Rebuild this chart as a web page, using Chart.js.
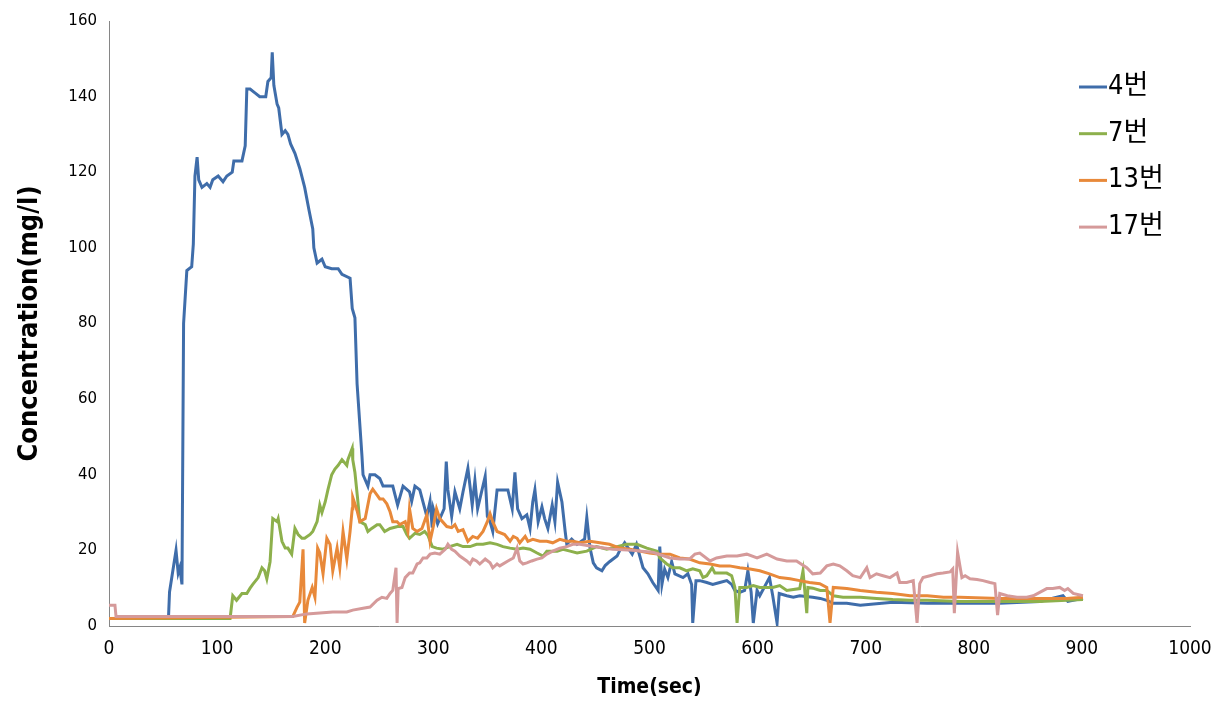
<!DOCTYPE html>
<html>
<head>
<meta charset="utf-8">
<script src="https://cdn.jsdelivr.net/npm/chart.js@4"></script>
<style>
  html, body { margin: 0; padding: 0; background: #fff; }
  #wrap { width: 1232px; height: 710px; }
</style>
</head>
<body>
<div id="wrap"><canvas id="chart" width="1232" height="710"></canvas></div>
<script>
// legend names
const seriesNames = ['4번', '7번', '13번', '17번'];
const seriesColors = ['#3F6DAA', '#8DB04C', '#E8893A', '#D59A9A'];

// [time (sec), concentration (mg/l)]
const s4 = [[0,2],[55,2],[56,9],[62,20],[64,14],[65.5,15.4],[67.5,11],[69,80],[72,94],[76.5,95],[78,101],[79.5,119],[81.5,124],[83,118],[86,116],[90.5,117],[93.5,116],[96,118],[101,119],[105.5,117.5],[109,119],[114,120],[115.5,123],[123,123],[126,127],[127.5,142],[130.5,142],[135,141],[139.5,140],[145,140],[147,144],[150,145],[151,151.7],[152.5,143],[155.5,138],[157,137],[160,130],[163,131],[165.5,130],[168,127.5],[172,125],[176.5,121],[181,116],[185,110],[188.5,105],[189.5,100],[192.5,96],[197,97],[200,95],[206,94.5],[212,94.5],[215.5,93],[223,92],[225,84],[227.5,81.5],[229.5,64],[234,45],[235,40],[239.5,37],[241.5,40],[246,40],[250.5,39],[253.5,37],[262.5,37],[267,32],[269,34],[272,37],[278,35.5],[280,33],[283,37],[287.5,36],[294,29],[297,33],[299,26],[300,31],[304,27],[310,31],[312,43.5],[313.5,36],[317,29],[320,35.5],[324.5,31],[327.5,35.5],[332,41.7],[336,32],[338.5,38.5],[341,31],[348,39.6],[350,29],[352.5,27.6],[355,25],[359,36],[369,36],[373,31],[375.5,40.6],[378,31],[382,28.4],[386.5,29.4],[389.5,25.8],[392,32.8],[394,36],[397,27.6],[400.5,31.5],[403,28.4],[406,25.8],[410,32],[412.5,27.6],[415,38],[419,32.8],[422,25],[423.5,21.6],[428,23],[433,21.6],[440,23],[442,28.7],[445,20.6],[448,16.7],[451,15.4],[456,14.6],[459,16],[463,17],[470,18.5],[472.5,20],[477,22],[484,19],[488,21.6],[494,15.4],[498.5,13.8],[503,11.5],[508,9.4],[509.5,21],[511.5,11],[514,15],[517,12.8],[520.5,17],[523.5,13.8],[531,12.8],[535.5,13.8],[539,11],[540,0.8],[543,12],[546.5,12],[553,11.5],[558.5,11],[565,11.5],[571.5,12],[576,11],[579,9.4],[583.5,8.9],[588,9.4],[591,14.6],[594,9],[596,0.8],[599.5,9.4],[602,8],[611,12.8],[614,8],[618,0.8],[620,8.6],[627,8],[633,7.6],[639,8],[651,7.6],[658,7.3],[664,6.8],[670,6],[682.5,6],[695,5.5],[725,6.3],[757,6],[787,6],[824,6],[861,6.5],[882.5,8],[887,6.5],[901,7.3]];

const s7 = [[0,2],[112,2],[114.5,8],[118,6.8],[123,8.6],[127.5,8.6],[130.5,10],[133,11],[138,12.8],[141.5,15.4],[144,14.6],[146,12.5],[149,17],[151.5,28.4],[155.5,27.6],[156.5,28.4],[160,22.4],[163,20.6],[165.5,20.6],[169,19],[172,25.8],[175,24.2],[178.5,23.2],[181,23.2],[186,24.2],[188.5,25],[192.5,27.6],[195,32],[197,30],[200,32.8],[202.5,36],[206,40],[209,41.5],[212,42.5],[215.5,44],[220,42.5],[221,44],[225,47],[225.5,44],[227.5,40.6],[230,33.6],[232,27.6],[237,26.8],[239.5,25],[243,25.8],[248,26.8],[250.5,26.8],[255,25],[260,25.8],[267,26.3],[272,26.3],[275.5,24.2],[278,23.2],[283,24.5],[287.5,24.2],[292,25],[295,24],[299,21],[303,20.6],[309,20.3],[315,21],[322,21.6],[327.5,21],[334,21],[340,21.6],[346,21.6],[352.5,22],[359,21.6],[364.5,21],[371,20.6],[377.5,20.3],[383,20.6],[389.5,20.3],[396,19.3],[401.5,18.5],[405,19.8],[414.5,19.8],[420,20.3],[426.5,19.8],[433,19.3],[442,19.8],[451,21],[460.5,20.3],[470,21],[479,21.6],[488.5,21.6],[497.5,20.6],[507,19.8],[509.5,18],[516,16.4],[521.5,15.4],[528,15.4],[534.5,14.6],[540,15.1],[546.5,14.6],[549.5,12.8],[553,13.3],[558,15.4],[560.5,14],[565,14],[571.5,14],[576,13.3],[579,10.2],[581,0.8],[583.5,10.2],[590,10.2],[596,10.7],[602,10.2],[614,10.2],[620.5,10.7],[627,9.4],[639,9.9],[642,14.6],[645.5,3.4],[646.5,10.2],[651,10],[658,9.4],[664,9.4],[670,8],[679,7.6],[695,7.6],[710,7.3],[725,7],[741,6.8],[757,6.8],[787,6.5],[824,6.5],[861,6.5],[901,7]];

const s13 = [[0,2],[170,2.5],[174,5],[176.5,6.3],[179.5,20.3],[181,0.8],[184,6.8],[188,10.2],[190.5,7.6],[193,20.6],[195,19.3],[198,13.8],[201.5,23.2],[204.5,21.6],[207,14.6],[211,20.6],[213.5,15.4],[216.5,25],[220,17.7],[223,25],[225,31],[225.5,34],[229.5,30.5],[232,27.6],[237,28.4],[241.5,35],[244,36.2],[248,34.6],[250.5,33.6],[253.5,33.6],[257,32.3],[260,30.2],[262.5,27.6],[266.5,27.6],[269,26.8],[274,27.6],[276.5,25],[278,31],[281,25.8],[285,25],[289.5,25.8],[294,29.4],[297,22.4],[300,26.3],[303,31],[306,28.4],[312.5,26.3],[317,26],[320,26.8],[323,25],[327.5,25.5],[332,22.4],[336.5,23.7],[341,23.2],[346,25],[350,27.6],[352.5,29.7],[355,27.6],[359,25],[366,24.2],[371,22.4],[374,23.7],[377.5,23.2],[380,22],[385,23.7],[387.5,22.4],[392,22.9],[398.5,22.4],[405,22.4],[410.5,22],[417,22.9],[423.5,22.4],[429,22.4],[435.5,22],[445,22.4],[454,22],[463,21.6],[472.5,20.6],[482,20.3],[491,19.8],[500,19.3],[509.5,19],[519,19],[528,18],[537,17.7],[546.5,16.7],[556,16.4],[565,15.9],[574,15.9],[583.5,15.4],[593,15.1],[602,14.6],[611,13.8],[620.5,12.8],[630,12.5],[639,12],[648,11.5],[657.5,11.2],[664,10.2],[667,0.8],[670,10.2],[682.5,9.9],[695,9.4],[710,8.9],[725,8.6],[741,8],[757,8],[772,7.6],[787,7.6],[824,7.3],[855,7.3],[886,7.3],[901,7.6]];

const s17 = [[0,5.5],[5.5,5.5],[6.5,2.5],[170,2.5],[183,3.2],[207,3.7],[220,3.7],[225.5,4.2],[235,4.7],[241.5,5],[248,6.8],[252.5,7.6],[257,7.3],[260,8.6],[262.5,9.4],[265.5,15.4],[266.5,0.8],[267.5,9.9],[271,10.2],[274,12.8],[278,14],[281,14],[285,16.4],[287.5,16.7],[290.5,18],[294,18],[297,19],[301.5,19.3],[306,19],[311,20.3],[313.5,21.6],[317,20.3],[320,19.8],[324.5,18.5],[331,17.2],[334,16.4],[336.5,17.7],[340,17.2],[343,16.4],[348,17.7],[352.5,16.7],[355,15.4],[359,16.4],[361.5,15.9],[369,17.2],[374,18],[377.5,20.6],[380,17.2],[383,16.4],[386.5,16.7],[391,17.2],[396,17.7],[400.5,18],[405,19],[410.5,19.8],[417,20.6],[423.5,21],[429,21.6],[435.5,21.6],[448,21],[466,20.3],[484.5,20],[503,19.5],[519,18],[528,17.7],[537,17.7],[542,19],[546.5,19.3],[556,17.2],[562,18],[571.5,18.5],[581,18.5],[590,19],[599.5,18],[608.5,19],[618,17.7],[627,17.2],[636,17.2],[645.5,15.4],[651,13.8],[658,14],[664,15.9],[670,16.4],[676,15.9],[682.5,14.6],[688,13.3],[695,12.8],[701,15.4],[704,12.8],[710,13.8],[716,13.3],[722.5,12.8],[729,14],[731.5,11.5],[738,11.5],[744,12],[747.5,0.8],[750,11.2],[753,12.8],[759.5,13.3],[766,13.8],[771.5,14],[778,14.3],[780.5,15.1],[782,3.4],[785,19.5],[789,12.8],[792,13.3],[796.5,12.5],[803,12.3],[808.5,12],[815,11.5],[819.5,11.2],[822,2.9],[824,8.6],[831,8],[840,7.6],[849,7.6],[855,8],[861,8.9],[867.5,9.9],[873,9.9],[879.5,10.2],[884,9.4],[887,9.9],[892,8.6],[901,8]];

const seriesData = [s4, s7, s13, s17];

const axisColor = '#868686';
const narrow = "'DejaVu Sans Condensed', 'Liberation Sans Narrow', sans-serif";

// legend drawn inside the plot, top right
const sideLegend = {
  id: 'sideLegend',
  afterDraw(chart) {
    const ctx = chart.ctx;
    ctx.save();
    ctx.font = "27px 'DejaVu Sans Condensed', 'Noto Sans CJK KR', sans-serif";
    ctx.textBaseline = 'middle';
    ctx.textAlign = 'left';
    seriesNames.forEach((name, i) => {
      const y = 87 + i * 46.7;
      ctx.strokeStyle = seriesColors[i];
      ctx.lineWidth = 3;
      ctx.beginPath();
      ctx.moveTo(1079, y);
      ctx.lineTo(1107, y);
      ctx.stroke();
      ctx.fillStyle = '#000';
      ctx.fillText(name, 1108, y);
    });
    ctx.restore();
  }
};

const datasets = seriesData.map((pts, i) => ({
  label: seriesNames[i],
  data: pts.map(p => ({ x: p[0], y: p[1] })),
  borderColor: seriesColors[i],
  backgroundColor: seriesColors[i],
  borderWidth: 3,
  pointRadius: 0,
  tension: 0,
  fill: false,
  order: 4 - i   // later series on top, like the original
}));

new Chart(document.getElementById('chart'), {
  type: 'line',
  data: { datasets: datasets },
  options: {
    responsive: false,
    animation: false,
    events: [],
    layout: { padding: { top: 12, right: 42, left: 0, bottom: 0 } },
    plugins: {
      legend: { display: false },
      tooltip: { enabled: false }
    },
    scales: {
      x: {
        type: 'linear',
        min: 0,
        max: 1000,
        ticks: {
          stepSize: 100,
          color: '#000',
          padding: 12,
          maxRotation: 0,
          font: { family: narrow, size: 19 },
          callback: v => String(v)
        },
        grid: { display: true, drawOnChartArea: false, drawTicks: false },
        border: { display: true, color: axisColor, width: 1 },
        title: {
          display: true,
          text: 'Time(sec)',
          color: '#000',
          font: { family: narrow, size: 21, weight: 'bold' },
          padding: { top: 0, bottom: 10 }
        },
        afterFit: s => { s.height = 84; }
      },
      y: {
        min: 0,
        max: 160,
        ticks: {
          stepSize: 20,
          color: '#000',
          padding: 12,
          font: { family: "'DejaVu Sans', sans-serif", size: 15 }
        },
        grid: { display: true, drawOnChartArea: false, drawTicks: false },
        border: { display: true, color: axisColor, width: 1 },
        title: {
          display: true,
          text: 'Concentration(mg/l)',
          color: '#000',
          font: { family: narrow, size: 27, weight: 'bold' },
          padding: { top: 14, bottom: 0 }
        },
        afterFit: s => { s.width = 109; }
      }
    }
  },
  plugins: [sideLegend]
});
</script>
</body>
</html>
